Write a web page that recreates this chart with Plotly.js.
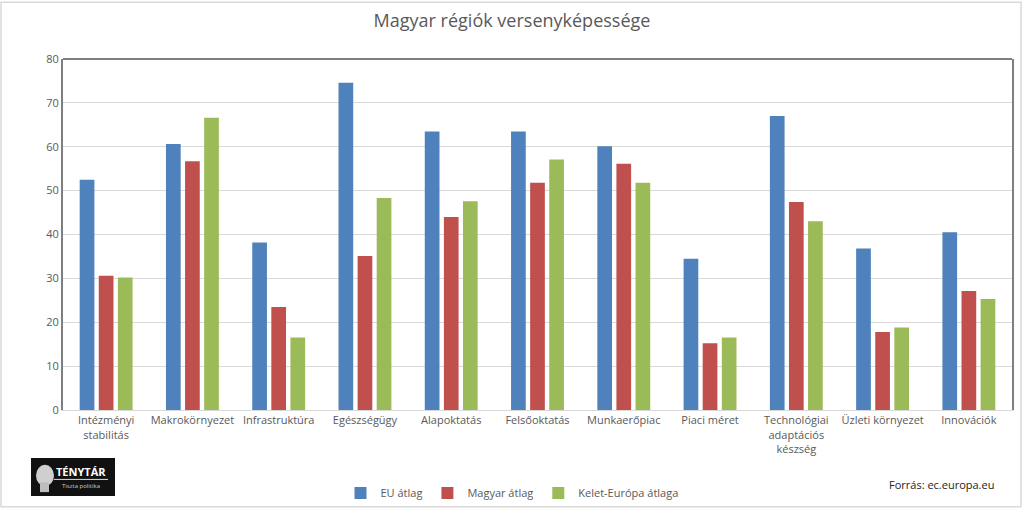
<!DOCTYPE html>
<html>
<head>
<meta charset="utf-8">
<script src="https://cdn.plot.ly/plotly-3.0.1.min.js"></script>
<style>html,body{margin:0;padding:0;background:#fff;overflow:hidden;}#chart{width:1024px;height:520px;}</style>
</head>
<body>
<div id="chart"></div>
<script>
const categories = ["Intézményi<br>stabilitás", "Makrokörnyezet", "Infrastruktúra", "Egészségügy", "Alapoktatás", "Felsőoktatás", "Munkaerőpiac", "Piaci méret", "Technológiai<br>adaptációs<br>készség", "Üzleti környezet", "Innovációk"];
const euAtlag = [52.5, 60.6, 38.2, 74.6, 63.5, 63.5, 60.1, 34.5, 67.0, 36.8, 40.5];
const magyarAtlag = [30.6, 56.7, 23.5, 35.1, 44.0, 51.8, 56.1, 15.2, 47.4, 17.8, 27.1];
const keletEuropaAtlaga = [30.2, 66.6, 16.5, 48.3, 47.6, 57.1, 51.8, 16.5, 43.0, 18.8, 25.3];
const seriesNames = ["EU átlag", "Magyar átlag", "Kelet-Európa átlaga"];
const yTicks = [0, 10, 20, 30, 40, 50, 60, 70, 80];

const W = 1024, H = 520;
const M = {l: 63, r: 12, t: 59, b: 102};
const PW = W - M.l - M.r, PH = H - M.t - M.b;
const px = x => (x - M.l) / PW;
const py = y => (H - M.b - y) / PH;

const colors = ["#4F81BD", "#C0504D", "#9BBB59"];
const data = [euAtlag, magyarAtlag, keletEuropaAtlaga].map((vals, i) => ({
  type: "bar",
  name: seriesNames[i],
  x: categories,
  y: vals,
  marker: {color: colors[i]},
  hoverinfo: "y"
}));

const font = "Open Sans, Liberation Sans, sans-serif";
const layout = {
  width: W, height: H,
  margin: M,
  autosize: false,
  paper_bgcolor: "#fff", plot_bgcolor: "#fff",
  barmode: "group",
  bargap: 0.336,
  bargroupgap: 0.23,
  title: {text: "Magyar régiók versenyképessége", font: {family: font, size: 18, color: "#595959"}, x: 0.5, xref: "container", y: 1 - 21 / H, yref: "container", yanchor: "middle", automargin: false},
  font: {family: font, size: 11, color: "#595959"},
  xaxis: {
    showline: true, linecolor: "#D9D9D9", linewidth: 1,
    showgrid: false, ticks: "", tickangle: 0, automargin: false,
    tickfont: {size: 11, color: "#595959"},
    fixedrange: true
  },
  yaxis: {
    range: [0, 80], tickvals: yTicks, showgrid: true, gridcolor: "#D9D9D9",
    zeroline: false, showline: true, mirror: true, linecolor: "#7F7F7F", linewidth: 2,
    ticks: "", automargin: false, tickfont: {size: 11, color: "#595959"}, fixedrange: true
  },
  legend: {orientation: "h", x: px(512), xanchor: "center", xref: "paper", y: py(503), yanchor: "middle", yref: "paper", font: {size: 11, color: "#595959"}, traceorder: "normal", itemwidth: 30, bgcolor: "rgba(0,0,0,0)"},
  showlegend: true,
  shapes: [
    {type: "line", xref: "paper", yref: "paper", x0: 0, x1: 1, y0: 1, y1: 1, line: {color: "#7F7F7F", width: 2}},
    {type: "rect", xref: "paper", yref: "paper", x0: px(1), x1: px(1021), y0: py(1), y1: py(517), line: {color: "#D9D9D9", width: 1.5}},
    {type: "rect", xref: "paper", yref: "paper", x0: px(31), x1: px(115), y0: py(467), y1: py(506), fillcolor: "#111", line: {color: "#111", width: 0}},
    {type: "circle", xref: "paper", yref: "paper", x0: px(36), x1: px(54), y0: py(474), y1: py(496), fillcolor: "#cfcfcf", line: {width: 0}},
    {type: "rect", xref: "paper", yref: "paper", x0: px(40), x1: px(49), y0: py(492), y1: py(502), fillcolor: "#bdbdbd", line: {width: 0}},
    {type: "line", xref: "paper", yref: "paper", x0: px(54), x1: px(108), y0: py(489), y1: py(489), line: {color: "#ddd", width: 1}}
  ],
  annotations: [
    {text: "Forrás: ec.europa.eu", xref: "paper", yref: "paper", x: px(887), y: py(494), xanchor: "left", yanchor: "middle", showarrow: false, font: {family: font, size: 11, color: "#222"}},
    {text: "<b>TÉNYTÁR</b>", xref: "paper", yref: "paper", x: px(81), y: py(481), xanchor: "center", yanchor: "middle", showarrow: false, font: {family: font, size: 11, color: "#fff"}},
    {text: "Tiszta politika", xref: "paper", yref: "paper", x: px(81), y: py(496), xanchor: "center", yanchor: "middle", showarrow: false, font: {family: font, size: 6, color: "#ccc"}}
  ]
};

Plotly.newPlot("chart", data, layout, {displayModeBar: false, staticPlot: true});
</script>
</body>
</html>
